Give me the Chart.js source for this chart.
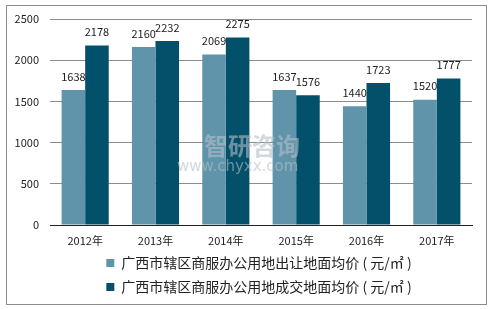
<!DOCTYPE html>
<html><head><meta charset="utf-8">
<script src="https://cdn.jsdelivr.net/npm/chart.js@4/dist/chart.umd.min.js"></script>
<style>
html,body{margin:0;padding:0;background:#fff;}
#wrap{position:absolute;left:0;top:0;width:494px;height:309px;}
#frame{position:absolute;left:6px;top:5px;width:481px;height:300px;border:1px solid #8c8c8c;box-sizing:border-box;pointer-events:none;}
</style></head>
<body>
<div id="wrap"><canvas id="c" width="494" height="309"></canvas><div id="frame"></div></div>
<script>
const categories = ["2012年","2013年","2014年","2015年","2016年","2017年"];
const seriesNames = ["广西市辖区商服办公用地出让地面均价 ( 元/㎡ )","广西市辖区商服办公用地成交地面均价 ( 元/㎡ )"];
const transferPrice = [1638,2160,2069,1637,1440,1520];
const dealPrice = [2178,2232,2275,1576,1723,1777];
const yTicks = [0,500,1000,1500,2000,2500];

const FONT = "'Noto Sans CJK SC', 'DejaVu Sans', sans-serif";

const labelPlugin = {
  id:'barLabels',
  afterDatasetsDraw(chart){
    const ctx = chart.ctx;
    ctx.save();
    // watermark over the bars
    ctx.globalAlpha = 0.6;
    ctx.fillStyle = "#b4bec8";
    ctx.strokeStyle = "#ffffff";
    ctx.lineWidth = 1;
    ctx.textAlign = "left";
    ctx.textBaseline = "middle";
    ctx.font = "bold 24px " + FONT;
    ctx.fillText("智研咨询", 204, 146);
    ctx.font = "15px 'DejaVu Sans', sans-serif";
    ctx.fillText("www.chyxx.com", 177, 167);
    ctx.globalAlpha = 1;
    // value labels
    ctx.font = "11px " + FONT;
    ctx.fillStyle = "#222";
    ctx.textAlign = "center";
    ctx.textBaseline = "bottom";
    chart.data.datasets.forEach((ds,i)=>{
      const meta = chart.getDatasetMeta(i);
      meta.data.forEach((bar,j)=>{
        ctx.fillText(String(ds.data[j]), bar.x, bar.y - 8);
      });
    });
    // y-axis tick labels from the library's scale
    const ys = chart.scales.y;
    ctx.textAlign = "right";
    ctx.textBaseline = "middle";
    ys.ticks.forEach(t=>{
      ctx.fillText(String(t.value), ys.right - 11, ys.getPixelForValue(t.value));
    });
    ctx.restore();
  }
};

new Chart(document.getElementById('c'),{
  type:'bar',
  data:{
    labels:categories,
    datasets:[
      {label:seriesNames[0],data:transferPrice,backgroundColor:"#6094aa",barPercentage:1,categoryPercentage:0.67},
      {label:seriesNames[1],data:dealPrice,backgroundColor:"#02506a",barPercentage:1,categoryPercentage:0.67}
    ]
  },
  options:{
    responsive:false,
    animation:false,
    devicePixelRatio:1,
    layout:{padding:{left:46,right:22,top:19,bottom:5}},
    plugins:{
      legend:{
        position:'bottom',
        labels:{font:{family:FONT,size:14},color:'#222',boxWidth:8,boxHeight:8,padding:10}
      },
      tooltip:{enabled:false}
    },
    scales:{
      x:{
        grid:{display:false,drawTicks:false},
        border:{color:'#222',width:1},
        ticks:{font:{family:FONT,size:11},color:'#222',padding:9},
        afterFit(axis){axis.height = 21;}
      },
      y:{
        min:0,max:2500,
        afterBuildTicks(axis){axis.ticks = yTicks.map(v=>({value:v}));},
        afterFit(axis){axis.width = 4;},
        grid:{color:'#8c8c8c',drawTicks:false},
        border:{display:false},
        ticks:{display:false}
      }
    }
  },
  plugins:[labelPlugin]
});
</script>
</body></html>
